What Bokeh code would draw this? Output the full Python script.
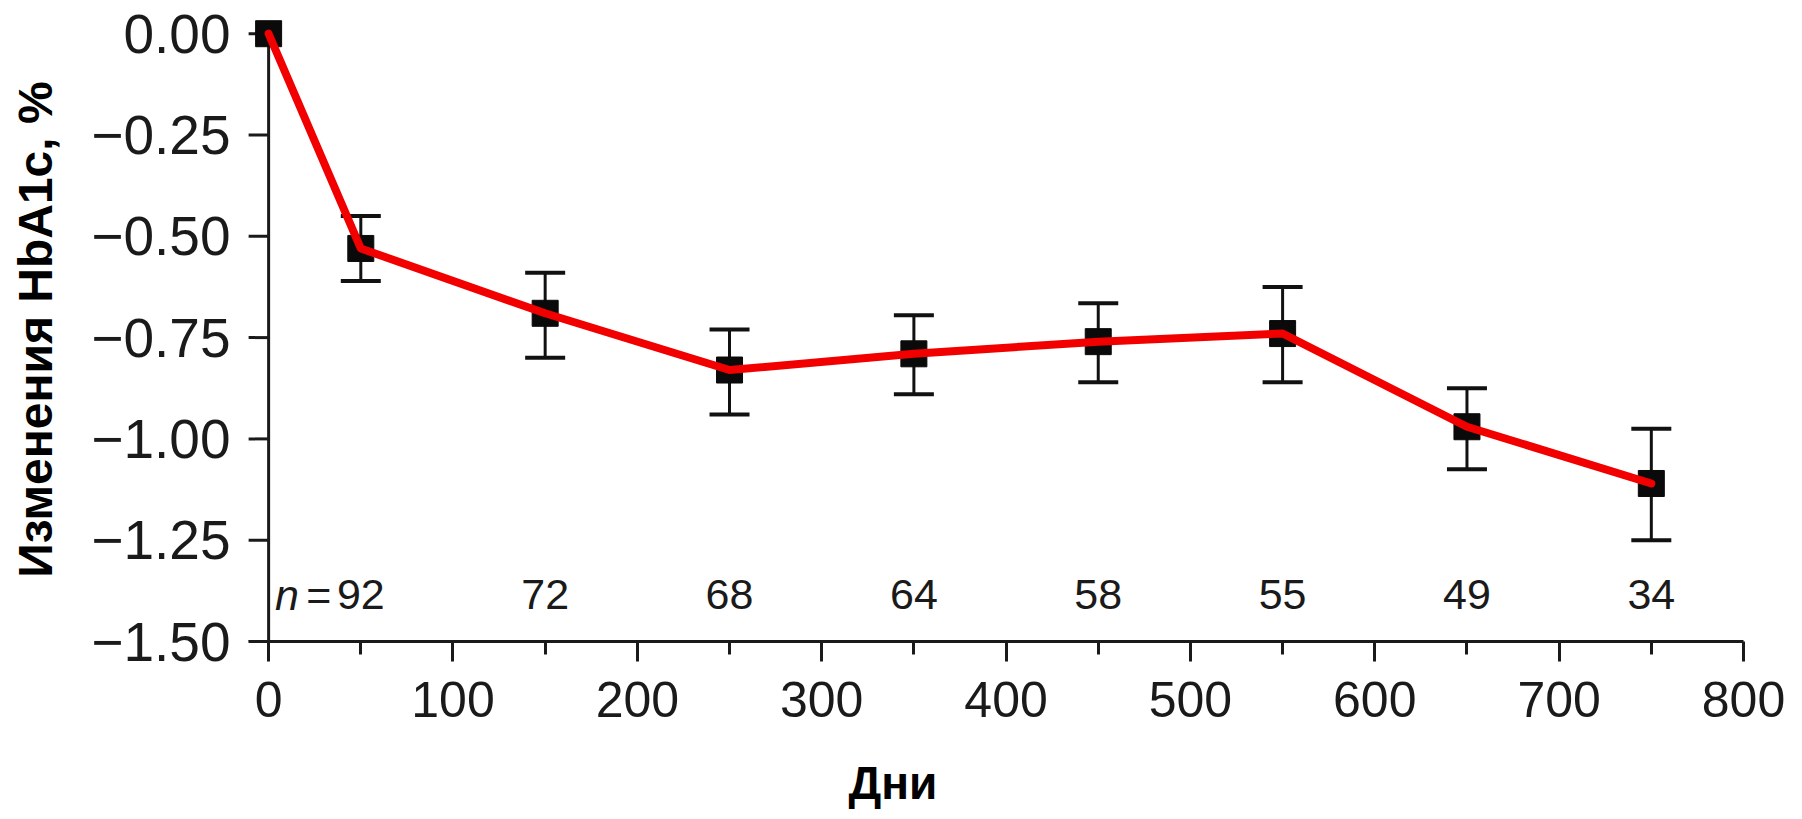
import math
from bokeh.plotting import figure
from bokeh.models import ColumnDataSource, FixedTicker, Whisker, TeeHead, Title, Range1d
from bokeh.embed import file_html
from bokeh.resources import INLINE
from bokeh.core.properties import value

# ---- data ----
days = [0, 50, 150, 250, 350, 450, 550, 650, 750]
hba1c_change = [0.0, -0.53, -0.69, -0.83, -0.79, -0.76, -0.74, -0.97, -1.11]

err_days = [50, 150, 250, 350, 450, 550, 650, 750]
err_upper = [-0.45, -0.59, -0.73, -0.695, -0.665, -0.625, -0.875, -0.975]
err_lower = [-0.61, -0.80, -0.94, -0.89, -0.86, -0.86, -1.075, -1.25]

n_days = [50, 150, 250, 350, 450, 550, 650, 750]
n_values = ["92", "72", "68", "64", "58", "55", "49", "34"]

x_ticks = [0, 100, 200, 300, 400, 500, 600, 700, 800]
x_minor_ticks = [50, 150, 250, 350, 450, 550, 650, 750]
y_ticks = [0.0, -0.25, -0.5, -0.75, -1.0, -1.25, -1.5]
y_tick_labels = ["0.00", "\u22120.25", "\u22120.50", "\u22120.75", "\u22121.00", "\u22121.25", "\u22121.50"]

y_label = "Изменения HbA1c, %"
x_label = "Дни"

# ---- styling ----
FONT = "Liberation Sans"
AXIS_COLOR = "#1a1a1a"
X_MIN, X_MAX = 0, 800
Y_MIN, Y_MAX = -1.5, 0.0

p = figure(
    frame_width=1497, frame_height=624,
    min_border_left=246, min_border_right=43,
    min_border_top=17, min_border_bottom=178,
    x_range=Range1d(-12, X_MAX), y_range=Range1d(Y_MIN, 0.04),
    output_backend="svg", toolbar_location=None,
    background_fill_color="white", border_fill_color="white",
)
p.outline_line_color = None
p.grid.visible = False

# x axis (at frame bottom, y = -1.5)
xa = p.xaxis[0]
xa.ticker = FixedTicker(ticks=x_ticks, minor_ticks=x_minor_ticks)
xa.bounds = (-10.9, X_MAX)
xa.axis_line_width = 3
xa.axis_line_color = AXIS_COLOR
xa.major_tick_line_width = 3
xa.minor_tick_line_width = 3
xa.major_tick_line_color = AXIS_COLOR
xa.minor_tick_line_color = AXIS_COLOR
xa.major_tick_out = 20
xa.major_tick_in = 0
xa.minor_tick_out = 13
xa.minor_tick_in = 0
xa.major_label_text_font = FONT
xa.major_label_text_font_size = "50px"
xa.major_label_text_color = AXIS_COLOR
xa.major_label_standoff = 20

# y axis: labels from the axis, line and ticks drawn at x = 0 inside the frame
ya = p.yaxis[0]
ya.ticker = FixedTicker(ticks=y_ticks, minor_ticks=[])
ya.major_label_overrides = {t: s for t, s in zip(y_ticks, y_tick_labels)}
ya.axis_line_color = None
ya.major_tick_line_color = None
ya.minor_tick_line_color = None
ya.major_tick_out = 0
ya.major_tick_in = 0
ya.major_label_text_font = FONT
ya.major_label_text_font_size = "55px"
ya.major_label_text_color = AXIS_COLOR
ya.major_label_standoff = 16
ya.axis_label = y_label
ya.axis_label_text_font = FONT
ya.axis_label_text_font_size = "48px"
ya.axis_label_text_font_style = "bold"
ya.axis_label_text_color = "#000000"
ya.axis_label_standoff = 26

p.segment(x0=[X_MIN], y0=[Y_MAX], x1=[X_MIN], y1=[Y_MIN],
          line_width=3, line_color=AXIS_COLOR)
p.ray(x=[X_MIN] * len(y_ticks), y=y_ticks, length=20, length_units="screen",
      angle=math.pi, line_width=3, line_color=AXIS_COLOR)

# error bars
err_src = ColumnDataSource(dict(x=err_days, up=err_upper, lo=err_lower))
whisk = Whisker(
    base="x", upper="up", lower="lo", source=err_src,
    line_width=3, line_color="#111111",
    upper_head=TeeHead(size=40, line_width=4, line_color="#111111"),
    lower_head=TeeHead(size=40, line_width=4, line_color="#111111"),
)
p.add_layout(whisk)

src = ColumnDataSource(dict(x=days, y=hba1c_change))
p.scatter("x", "y", source=src, marker="square", size=26,
          fill_color="#0a0a0a", line_color="#0a0a0a")
p.line("x", "y", source=src, line_width=8, line_color="#f20000",
       line_join="round", line_cap="round")

# n labels
n_label_y = -1.385
n_src = ColumnDataSource(dict(x=n_days, y=[n_label_y] * len(n_days), t=n_values))
p.text("x", "y", text="t", source=n_src, text_align="center",
       text_baseline="middle", text_font=value(FONT), text_font_size="43px",
       text_color=AXIS_COLOR)
p.text(x=[n_days[0]], y=[n_label_y], text=["="], x_offset=-42,
       text_align="center", text_baseline="middle", text_font=value(FONT),
       text_font_size="43px", text_color=AXIS_COLOR)
p.text(x=[n_days[0]], y=[n_label_y], text=["n"], x_offset=-62,
       text_align="right", text_baseline="middle", text_font=value(FONT),
       text_font_size="43px", text_font_style="italic", text_color=AXIS_COLOR)

# x axis title (placed left of centre, as in the reference)
p.add_layout(Title(text=x_label, align="left", offset=602, standoff=70,
                   text_font=FONT, text_font_size="46px", text_font_style="bold",
                   text_color="#000000"), "below")

open("out.html", "w").write(file_html(p, INLINE))
